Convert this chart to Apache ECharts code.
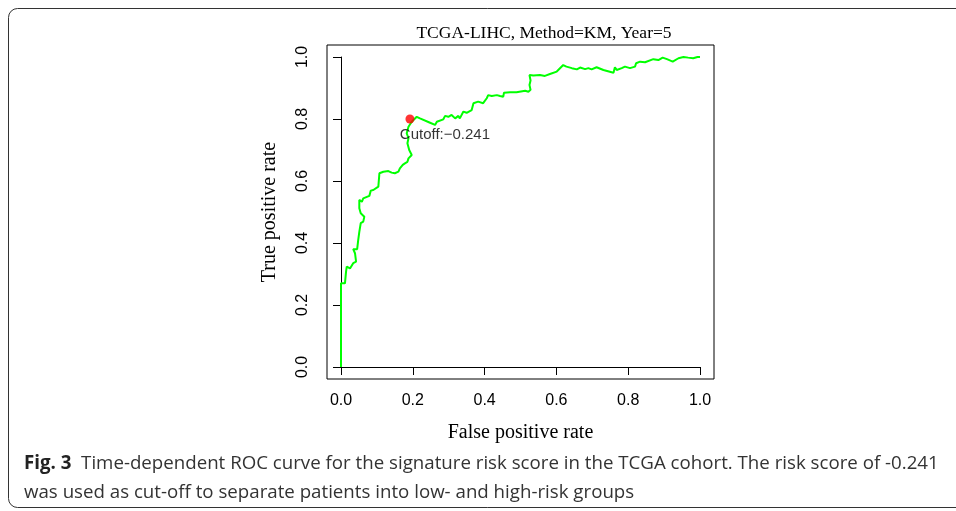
<!DOCTYPE html>
<html><head><meta charset="utf-8">
<script src="https://cdn.jsdelivr.net/npm/echarts@6/dist/echarts.min.js"></script>
<style>html,body{margin:0;padding:0;background:#fff}#c{width:956px;height:511px}</style>
</head><body><div id="c"></div>
<script>
const chartTitle = 'TCGA-LIHC, Method=KM, Year=5';
const xTitle = 'False positive rate';
const yTitle = 'True positive rate';
const cutoffPoint = [0.192, 0.800];
const cutoffLabel = 'Cutoff:\u22120.241';
const fpr = [0,0,0.011,0.014,0.016,0.025,0.030,0.034,0.042,0.039,0.034,0.045,0.048,0.051,0.055,0.062,0.065,0.055,0.051,0.051,
0.058,0.062,0.079,0.083,0.090,0.095,0.104,0.107,0.118,0.132,0.141,0.150,0.160,0.164,0.172,0.178,0.185,0.188,0.197,0.190,
0.185,0.188,0.183,0.188,0.197,0.211,0.220,0.248,0.262,0.267,0.285,0.290,0.299,0.308,0.318,0.327,0.331,0.341,0.350,0.355,
0.364,0.369,0.373,0.382,0.396,0.406,0.410,0.420,0.434,0.443,0.452,0.454,0.471,0.489,0.513,0.522,0.528,0.525,0.528,0.525,
0.536,0.554,0.568,0.582,0.587,0.601,0.619,0.628,0.643,0.657,0.666,0.680,0.689,0.698,0.712,0.731,0.759,0.763,0.768,0.782,
0.791,0.805,0.819,0.822,0.833,0.847,0.852,0.870,0.884,0.896,0.908,0.924,0.940,0.954,0.967,0.981,0.993,1.0];
const tpr = [0,0.27,0.27,0.307,0.324,0.318,0.324,0.335,0.340,0.367,0.380,0.380,0.410,0.436,0.464,0.469,0.485,0.496,0.512,0.539,
0.533,0.544,0.552,0.569,0.571,0.576,0.582,0.625,0.630,0.632,0.627,0.625,0.630,0.641,0.652,0.657,0.662,0.673,0.684,0.700,
0.722,0.738,0.754,0.775,0.791,0.807,0.802,0.788,0.781,0.791,0.799,0.810,0.807,0.813,0.802,0.810,0.802,0.824,0.820,0.818,
0.829,0.851,0.856,0.856,0.851,0.867,0.877,0.874,0.877,0.874,0.872,0.885,0.886,0.886,0.891,0.888,0.894,0.910,0.924,0.942,
0.940,0.942,0.939,0.945,0.939,0.953,0.974,0.969,0.964,0.960,0.966,0.961,0.964,0.960,0.967,0.958,0.949,0.967,0.958,0.964,
0.969,0.964,0.969,0.980,0.985,0.983,0.988,0.993,0.990,0.998,0.993,0.985,0.996,1.0,0.998,0.996,1.0,1.0];
const tickLabels = ['0.0','0.2','0.4','0.6','0.8','1.0'];
const captionBold = 'Fig. 3';
const captionLine1 = 'Time-dependent ROC curve for the signature risk score in the TCGA cohort. The risk score of -0.241';
const captionLine2 = 'was used as cut-off to separate patients into low- and high-risk groups';

const rocData = fpr.map((x, i) => [x, tpr[i]]);
const tickFmt = v => { const i = Math.round(v / 0.2); return Math.abs(v - i * 0.2) < 1e-6 ? tickLabels[i] : ''; };

const chart = echarts.init(document.getElementById('c'), null, {renderer: 'canvas'});
const serif = '"Liberation Serif", "Times New Roman", serif';
const sans = '"Liberation Sans", Arial, sans-serif';
const capFont = '"Open Sans", "Noto Sans", sans-serif';
const axisCommon = {
  type: 'value', min: 0, max: 1, interval: 0.2,
  axisLine: {show: true, lineStyle: {color: '#000', width: 1}},
  axisTick: {show: true, length: 8, lineStyle: {color: '#000'}},
  splitLine: {show: false},
  nameTextStyle: {fontFamily: serif, fontSize: 20, color: '#000'},
  nameLocation: 'middle'
};
chart.setOption({
  animation: false,
  backgroundColor: '#fff',
  title: {text: chartTitle, left: 539, top: 19, textAlign: 'center',
    textStyle: {fontFamily: serif, fontSize: 17.5, fontWeight: 'normal', color: '#000'}},
  grid: [
    {left: 341, top: 57, width: 359, height: 310},
    {left: 327, top: 45, width: 387, height: 334, show: true, borderColor: '#000', borderWidth: 1, backgroundColor: 'transparent'}
  ],
  xAxis: [
    Object.assign({}, axisCommon, {gridIndex: 0, position: 'bottom', offset: 12, name: xTitle, nameGap: 44,
      axisLabel: {formatter: tickFmt, margin: 14, fontFamily: sans, fontSize: 16, color: '#000'}}),
    {gridIndex: 1, type: 'value', min: 0, max: 1, show: false}
  ],
  yAxis: [
    Object.assign({}, axisCommon, {gridIndex: 0, position: 'left', offset: 14, name: yTitle, nameGap: 47,
      axisLabel: {formatter: tickFmt, margin: 16, rotate: 90, fontFamily: sans, fontSize: 16, color: '#000'}}),
    {gridIndex: 1, type: 'value', min: 0, max: 1, show: false}
  ],
  series: [
    {type: 'line', xAxisIndex: 0, yAxisIndex: 0, data: rocData, showSymbol: false, symbol: 'none',
      lineStyle: {color: '#00ff00', width: 2}, z: 2},
    {type: 'scatter', xAxisIndex: 0, yAxisIndex: 0, data: [cutoffPoint], symbolSize: 9,
      itemStyle: {color: '#ff0000'}, z: 3,
      label: {show: true, formatter: cutoffLabel, position: 'inside', offset: [35, 16],
        fontFamily: sans, fontSize: 15, color: '#000'}}
  ],
  graphic: [
    {type: 'rect', shape: {x: 8.5, y: 8.5, width: 1000, height: 499, r: 9},
      style: {fill: 'none', stroke: '#333', lineWidth: 1}, z: -1},
    {type: 'text', x: 24, y: 464, style: {
      text: '{b|' + captionBold + '}  ' + captionLine1, verticalAlign: 'middle',
      rich: {b: {fontWeight: 'bold', fontFamily: capFont, fontSize: 18.7, fill: '#222'}},
      font: '18.7px ' + capFont, fill: '#333'}},
    {type: 'text', x: 24, y: 493, style: {
      text: captionLine2, verticalAlign: 'middle', font: '18.7px ' + capFont, fill: '#333'}}
  ]
});
</script></body></html>
